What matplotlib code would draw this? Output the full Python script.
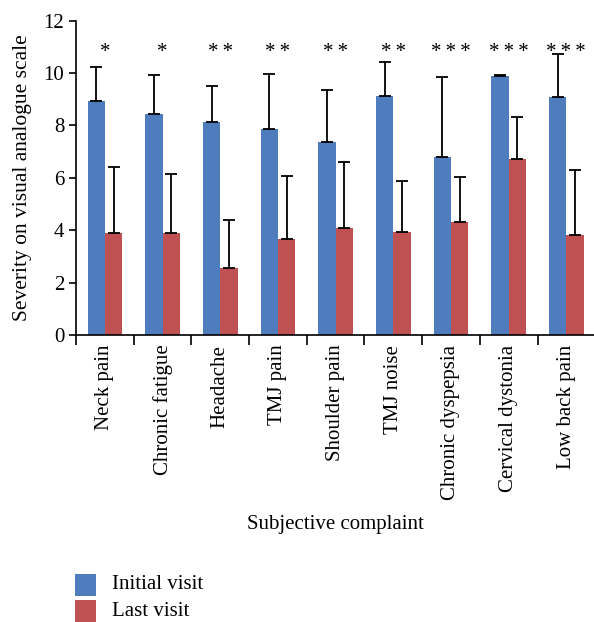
import matplotlib.pyplot as plt
from matplotlib.patches import Rectangle
import numpy as np

# Values
complaints = ["Neck pain", "Chronic fatigue", "Headache", "TMJ pain", "Shoulder pain",
              "TMJ noise", "Chronic dyspepsia", "Cervical dystonia", "Low back pain"]
initial_mean = [8.93, 8.43, 8.12, 7.87, 7.36, 9.11, 6.80, 9.89, 9.09]
initial_sd = [1.31, 1.51, 1.40, 2.10, 2.01, 1.33, 3.05, 0.03, 1.63]
last_mean = [3.88, 3.88, 2.56, 3.67, 4.09, 3.93, 4.31, 6.72, 3.82]
last_sd = [2.55, 2.25, 1.83, 2.40, 2.52, 1.96, 1.71, 1.60, 2.47]
significance = ["*", "*", "**", "**", "**", "**", "***", "***", "***"]

BLUE = "#4F7CBD"
RED = "#BF5152"

plt.rcParams["font.family"] = ["Liberation Serif", "DejaVu Serif"]

fig = plt.figure(figsize=(5.94, 6.22), dpi=100)
ax = fig.add_axes([0.128, 0.4614, 0.874, 0.5053])

x = np.arange(len(complaints))
w = 0.3
err_kw = dict(ecolor="black", elinewidth=1.3, capsize=4, capthick=1.3)
ax.bar(x - w / 2, initial_mean, w, color=BLUE, label="Initial visit",
       yerr=[np.zeros(len(x)), initial_sd], error_kw=err_kw)
ax.bar(x + w / 2, last_mean, w, color=RED, label="Last visit",
       yerr=[np.zeros(len(x)), last_sd], error_kw=err_kw)

for xi, s in zip(x, significance):
    ax.text(xi, 10.8, "\u2009".join(s), ha="center", va="center", fontsize=15)

ax.set_xlim(-0.5, len(x) - 0.5)
ax.set_ylim(0, 12)
ax.set_yticks(range(0, 13, 2))
ax.set_xticks(x)
ax.set_xticklabels(complaints, rotation=90, fontsize=15)
ax.set_xticks(np.arange(-0.5, len(x)), minor=True)
ax.tick_params(axis="x", which="major", length=0, pad=7)
ax.tick_params(axis="x", which="minor", length=7, width=1.2, direction="out")
ax.tick_params(axis="y", labelsize=15, length=5, width=1.2, direction="out")
for side in ["top", "right"]:
    ax.spines[side].set_visible(False)
ax.spines["left"].set_linewidth(1.2)
ax.spines["bottom"].set_linewidth(1.2)

ax.set_ylabel("Severity on visual analogue scale", fontsize=15.5, labelpad=8)
ax.set_xlabel("Subjective complaint", fontsize=15, labelpad=11)

# legend drawn by hand, stacked at the bottom left
handles, labels = ax.get_legend_handles_labels()
for i, (h, lab) in enumerate(zip(handles, labels)):
    y0 = 0.0418 - i * 0.0425
    fig.add_artist(Rectangle((0.1263, y0), 0.0354, 0.0354, transform=fig.transFigure,
                             facecolor=h.patches[0].get_facecolor(), edgecolor="none"))
    fig.text(0.1886, y0 + 0.0177, lab, ha="left", va="center", fontsize=15)

fig.savefig("out.png", dpi=100)
